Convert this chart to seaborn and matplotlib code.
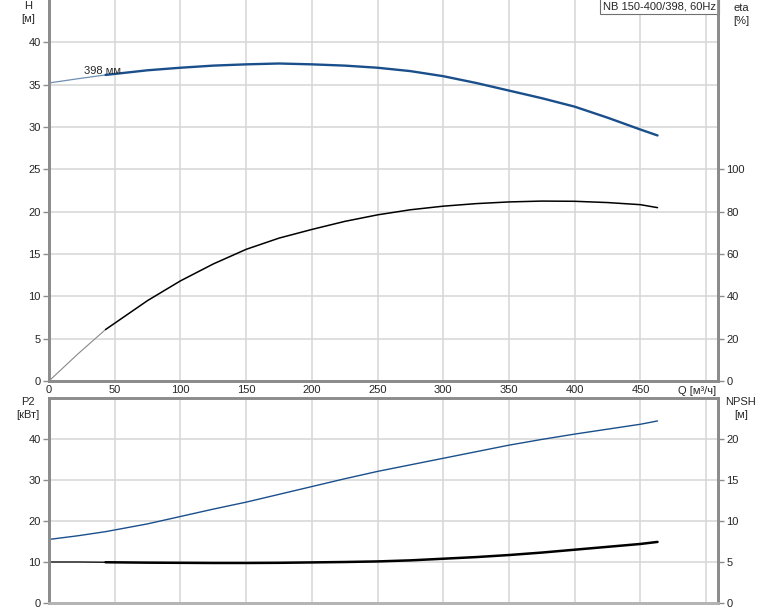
import matplotlib
matplotlib.use("Agg")
import matplotlib.pyplot as plt
import seaborn as sns
import pandas as pd

# ---- data ----
q = [0, 22, 43, 75, 100, 125, 150, 175, 200, 225, 250, 275, 300, 325, 350, 375, 400, 425, 450, 463]
head = [35.2, 35.7, 36.15, 36.7, 37.0, 37.25, 37.4, 37.5, 37.4, 37.25, 37.0, 36.6, 36.0, 35.2, 34.3, 33.4, 32.4, 31.1, 29.7, 29.0]
eta = [0, 12.8, 24.3, 38.0, 47.3, 55.3, 62.2, 67.5, 71.6, 75.4, 78.5, 80.9, 82.6, 83.8, 84.6, 85.0, 84.9, 84.3, 83.3, 81.9]
p2 = [15.5, 16.4, 17.4, 19.3, 21.1, 22.9, 24.6, 26.5, 28.4, 30.3, 32.1, 33.7, 35.3, 36.9, 38.5, 39.9, 41.2, 42.4, 43.6, 44.4]
npsh = [5.0, 5.0, 4.97, 4.92, 4.9, 4.88, 4.88, 4.9, 4.95, 5.0, 5.07, 5.2, 5.4, 5.6, 5.85, 6.15, 6.5, 6.85, 7.2, 7.45]
x_ticks = [0, 50, 100, 150, 200, 250, 300, 350, 400, 450]
h_ticks = [0, 5, 10, 15, 20, 25, 30, 35, 40]
eta_ticks = [0, 20, 40, 60, 80, 100]
p2_ticks = [0, 10, 20, 30, 40]
npsh_ticks = [0, 5, 10, 15, 20]
impeller_label = "398 мм"
title_box = "NB 150-400/398, 60Hz"

df = pd.DataFrame({"q": q, "head": head, "eta": eta, "p2": p2, "npsh": npsh})
split = 2  # index where the thin start segment ends
thin = df.iloc[: split + 1]
thick = df.iloc[split:]

sns.set_style("white")
plt.rcParams["font.family"] = ["Liberation Sans", "DejaVu Sans"]
FS = 8
BLUE = "#1a4f8b"
GRID = "#d6d6d6"
SPINE = "#8c8c8c"

fig = plt.figure(figsize=(7.74, 6.11), dpi=100)
ax1 = fig.add_axes([49 / 774, 1 - 381 / 611, 669 / 774, 381 / 611])
ax2 = fig.add_axes([49 / 774, 1 - 603 / 611, 669 / 774, 205 / 611])
ax1r = ax1.twinx()
ax2r = ax2.twinx()

# top: head + efficiency
sns.lineplot(data=thin, x="q", y="head", ax=ax1, color="#6f8fb3", linewidth=0.9, sort=False)
sns.lineplot(data=thick, x="q", y="head", ax=ax1, color=BLUE, linewidth=1.7, sort=False)
sns.lineplot(data=thin, x="q", y="eta", ax=ax1r, color="#888888", linewidth=0.8, sort=False)
sns.lineplot(data=thick, x="q", y="eta", ax=ax1r, color="black", linewidth=1.1, sort=False)

# bottom: power + NPSH
sns.lineplot(data=df, x="q", y="p2", ax=ax2, color=BLUE, linewidth=1.0, sort=False)
sns.lineplot(data=thin, x="q", y="npsh", ax=ax2r, color="black", linewidth=0.9, sort=False)
sns.lineplot(data=thick, x="q", y="npsh", ax=ax2r, color="black", linewidth=1.8, sort=False)

for ax in (ax1, ax2):
    ax.set_xlim(0, 509)
    ax.set_xticks(x_ticks + [500])
    ax.grid(True, color=GRID, linewidth=1.1)
    ax.set_axisbelow(True)
    ax.set_xlabel("")
    ax.set_ylabel("")
for ax in (ax1r, ax2r):
    ax.set_ylabel("")
    ax.grid(False)

ax1.set_ylim(0, 45)
ax1.set_yticks(h_ticks)
ax1r.set_ylim(0, 180)
ax1r.set_yticks(eta_ticks)
ax1.set_xticklabels([str(t) for t in x_ticks] + [""])

ax2.set_ylim(0, 50)
ax2.set_yticks(p2_ticks)
ax2r.set_ylim(0, 25)
ax2r.set_yticks(npsh_ticks)
ax2.set_xticklabels([])

for ax in (ax1, ax2, ax1r, ax2r):
    ax.tick_params(axis="y", length=4, width=1, color=SPINE, labelsize=FS, pad=2)
    ax.tick_params(axis="x", length=0, labelsize=FS, pad=3)
    for s in ax.spines.values():
        s.set_color(SPINE)
        s.set_linewidth(2)

ax1.spines["top"].set_visible(False)
ax1r.spines["top"].set_visible(False)
ax2.spines["top"].set_color("#a8a8a8")
ax2.spines["bottom"].set_color("#b4b4b4")
ax2r.spines["bottom"].set_color("#b4b4b4")

ax1.text(27, 36.6, impeller_label, fontsize=FS, ha="left", va="center")
ax1.text(0.997, 0.997, title_box, transform=ax1.transAxes, fontsize=FS, ha="right", va="top",
         bbox=dict(boxstyle="square,pad=0.3", facecolor="white", edgecolor="#707070", linewidth=0.8))
ax1.text(0.997, -0.012, "Q [м³/ч]", transform=ax1.transAxes, fontsize=FS, ha="right", va="top")

fig.text(28 / 774, 1 - 1 / 611, "H\n[м]", fontsize=FS, ha="center", va="top", linespacing=1.4)
fig.text(28 / 774, 1 - 397 / 611, "P2\n[кВт]", fontsize=FS, ha="center", va="top", linespacing=1.4)
fig.text(741 / 774, 1 - 3 / 611, "eta\n[%]", fontsize=FS, ha="center", va="top", linespacing=1.4)
fig.text(741 / 774, 1 - 397 / 611, "NPSH\n[м]", fontsize=FS, ha="center", va="top", linespacing=1.4)

fig.savefig("out.png", dpi=100)
